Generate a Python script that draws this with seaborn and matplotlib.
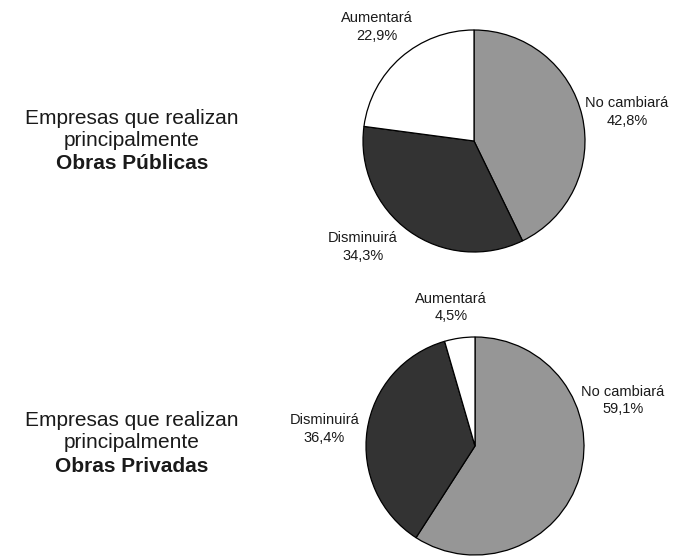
import matplotlib
matplotlib.use("agg")
import matplotlib.pyplot as plt
import seaborn as sns

# data
categories = ["No cambiará", "Disminuirá", "Aumentará"]
publicas_pct = [42.8, 34.3, 22.9]
privadas_pct = [59.1, 36.4, 4.5]
group_titles = ["Obras Públicas", "Obras Privadas"]

# label placement, in units of the pie radius (layout only)
label_pos_publicas = [(1.378, 0.261), (-1.0, -0.955), (-0.874, 1.027)]
label_pos_privadas = [(1.355, 0.418), (-1.382, 0.155), (-0.218, 1.273)]

W, H = 685, 556


def _fmt(v):
    return f"{v:.1f}".replace(".", ",") + "%"


def _draw_pie(fig, values, label_pos, cx, cy, r, colors):
    ax = fig.add_axes([(cx - r) / W, 1 - (cy + r) / H, 2 * r / W, 2 * r / H])
    ax.pie(
        values,
        colors=colors,
        startangle=90,
        counterclock=False,
        wedgeprops=dict(edgecolor="black", linewidth=0.9),
    )
    ax.set_xlim(-1, 1)
    ax.set_ylim(-1, 1)
    ax.set_aspect("auto")
    ax.axis("off")
    for cat, v, (x, y) in zip(categories, values, label_pos):
        ax.text(x, y, f"{cat}\n{_fmt(v)}", ha="center", va="center",
                fontsize=10.5, linespacing=1.3, color="#1a1a1a", clip_on=False)
    return ax


def _draw_side_text(fig, title, cx, cy):
    lines = ["Empresas que realizan", "principalmente", title]
    for i, line in enumerate(lines):
        fig.text(cx / W, 1 - (cy + (i - 1) * 23) / H, line,
                 ha="center", va="center", fontsize=15, color="#1a1a1a",
                 fontweight="bold" if i == 2 else "normal")


sns.set_theme(style="white")
plt.rcParams["font.family"] = ["Liberation Sans", "DejaVu Sans"]

colors = sns.color_palette(["#969696", "#333333", "#ffffff"])

fig = plt.figure(figsize=(W / 100, H / 100), dpi=100)
fig.patch.set_facecolor("white")

_draw_pie(fig, publicas_pct, label_pos_publicas, 474, 141, 111, colors)
_draw_pie(fig, privadas_pct, label_pos_privadas, 475, 446, 109, colors)

_draw_side_text(fig, group_titles[0], 132, 141)
_draw_side_text(fig, group_titles[1], 132, 443)

fig.savefig("out.png", dpi=100)
